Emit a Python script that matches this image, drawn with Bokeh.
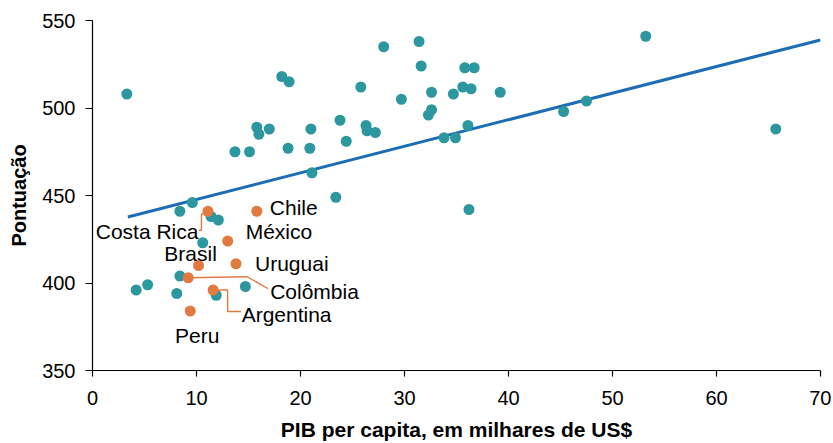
from bokeh.plotting import figure
from bokeh.models import ColumnDataSource, Range1d, FixedTicker
from bokeh.core.properties import value
from bokeh.embed import file_html
from bokeh.resources import INLINE

# ---------------- data ----------------
# other countries (teal): GDP per capita (thousand US$), score
others_x = [3.3, 18.2, 18.9, 15.8, 16.0, 17.0, 13.7, 15.1, 18.8,
            28.0, 31.4, 31.6, 35.8, 36.7, 25.8, 32.6, 34.7, 35.6, 36.4, 39.2,
            29.7, 32.6, 32.3, 23.8, 21.0, 26.3, 26.4, 27.2, 20.9, 24.4,
            36.1, 33.8, 34.9, 21.1, 23.4, 53.2, 45.3, 47.5, 65.7, 36.2,
            9.6, 8.4, 11.4, 12.1, 10.6, 8.4, 5.3, 4.2, 8.1, 11.9, 14.7]
others_y = [508, 518, 515, 489, 485, 488, 475, 475, 477,
            535, 538, 524, 523, 523, 512, 509, 508, 512, 511, 509,
            505, 499, 496, 493, 488, 490, 487, 486, 477, 481,
            490, 483, 483, 463, 449, 541, 498, 504, 488, 442,
            446, 441, 438, 436, 423, 404, 399, 396, 394, 393, 398]

# Latin American countries (orange)
latam_names = ["Chile", "México", "Costa Rica", "Brasil", "Uruguai",
               "Colômbia", "Argentina", "Peru"]
latam_x = [15.8, 13.0, 11.1, 10.2, 13.8, 9.2, 11.6, 9.4]
latam_y = [441, 424, 441, 410, 411, 403, 396, 384]

# trend line end points
fit_x = [3.4, 70]
fit_y = [437.7, 538.9]

x_ticks = [0, 10, 20, 30, 40, 50, 60, 70]
y_ticks = [350, 400, 450, 500, 550]

# ---------------- layout / style ----------------
TEAL = "#2c979f"
ORANGE = "#e27a3f"
BLUE = "#1d6db5"
FONT = "Liberation Sans"

W, H = 831, 443
BL, BR, BT, BB = 92, 11, 20, 73
X0, X1, Y0, Y1 = 0, 70, 350, 550
px_x = (W - BL - BR) / (X1 - X0)
px_y = (H - BT - BB) / (Y1 - Y0)

p = figure(width=W, height=H,
           x_range=Range1d(X0, X1), y_range=Range1d(Y0, Y1),
           output_backend="svg", toolbar_location=None,
           min_border_left=BL, min_border_right=BR,
           min_border_top=BT, min_border_bottom=BB)
p.outline_line_color = None
p.xgrid.visible = False
p.ygrid.visible = False
p.background_fill_color = "white"
p.border_fill_color = "white"

for ax in (p.xaxis[0], p.yaxis[0]):
    ax.axis_line_color = "black"
    ax.axis_line_width = 1.2
    ax.major_tick_line_color = "black"
    ax.major_tick_line_width = 1.2
    ax.major_tick_in = 0
    ax.minor_tick_line_color = None
    ax.major_label_text_font = FONT
    ax.major_label_text_font_size = "20px"
    ax.major_label_text_color = "black"
    ax.axis_label_text_font = FONT
    ax.axis_label_text_font_style = "bold"
    ax.axis_label_text_color = "black"

p.xaxis[0].axis_label_text_font_size = "21px"
p.yaxis[0].axis_label_text_font_size = "20px"
p.xaxis[0].ticker = FixedTicker(ticks=x_ticks)
p.yaxis[0].ticker = FixedTicker(ticks=y_ticks)
p.xaxis[0].major_tick_out = 6
p.yaxis[0].major_tick_out = 7
p.xaxis[0].major_label_standoff = 14
p.yaxis[0].major_label_standoff = 10
p.xaxis[0].axis_label = "PIB per capita, em milhares de US$"
p.yaxis[0].axis_label = "Pontuação"
p.xaxis[0].axis_label_standoff = 10
p.yaxis[0].axis_label_standoff = 9

# trend line
p.line(fit_x, fit_y, line_color=BLUE, line_width=3)

# points
p.scatter(others_x, others_y, marker="circle", size=11,
          fill_color=TEAL, line_color=None)
p.scatter(latam_x, latam_y, marker="circle", size=11,
          fill_color=ORANGE, line_color=None)

# label placement (pixel offsets from the point, screen y down)
label_style = {
    "Chile":      (13, -4, "left"),
    "México":     (18, -10, "left"),
    "Costa Rica": (-9.5, 20, "right"),
    "Brasil":     (-8, -12.5, "center"),
    "Uruguai":    (19, 0, "left"),
    "Colômbia":   (82, 14, "left"),
    "Argentina":  (28.5, 24, "left"),
    "Peru":       (7, 24, "center"),
}
# leader paths in pixel offsets from the point
leaders = {
    "Costa Rica": [(0, 0), (-6.5, 3), (-6.5, 19), (-9, 19)],
    "Colômbia":   [(0, 0), (59, -1), (80, 11)],
    "Argentina":  [(0, 0), (14.5, 0), (14.5, 21.5), (28, 21.5)],
}

xs, ys = [], []
for name, path in leaders.items():
    i = latam_names.index(name)
    xs.append([latam_x[i] + dx / px_x for dx, dy in path])
    ys.append([latam_y[i] - dy / px_y for dx, dy in path])
p.multi_line(xs, ys, line_color=ORANGE, line_width=1.4)

for align in ("left", "right", "center"):
    d = dict(x=[], y=[], t=[], xo=[], yo=[])
    for i, n in enumerate(latam_names):
        dx, dy, a = label_style[n]
        if a != align:
            continue
        d["x"].append(latam_x[i]); d["y"].append(latam_y[i]); d["t"].append(n)
        d["xo"].append(dx); d["yo"].append(dy)
    src = ColumnDataSource(d)
    p.text(x="x", y="y", text="t", x_offset="xo", y_offset="yo", source=src,
           text_align=align, text_baseline="middle",
           text_font=value(FONT), text_font_size="21px", text_color="black")

open("out.html", "w").write(file_html(p, INLINE))
